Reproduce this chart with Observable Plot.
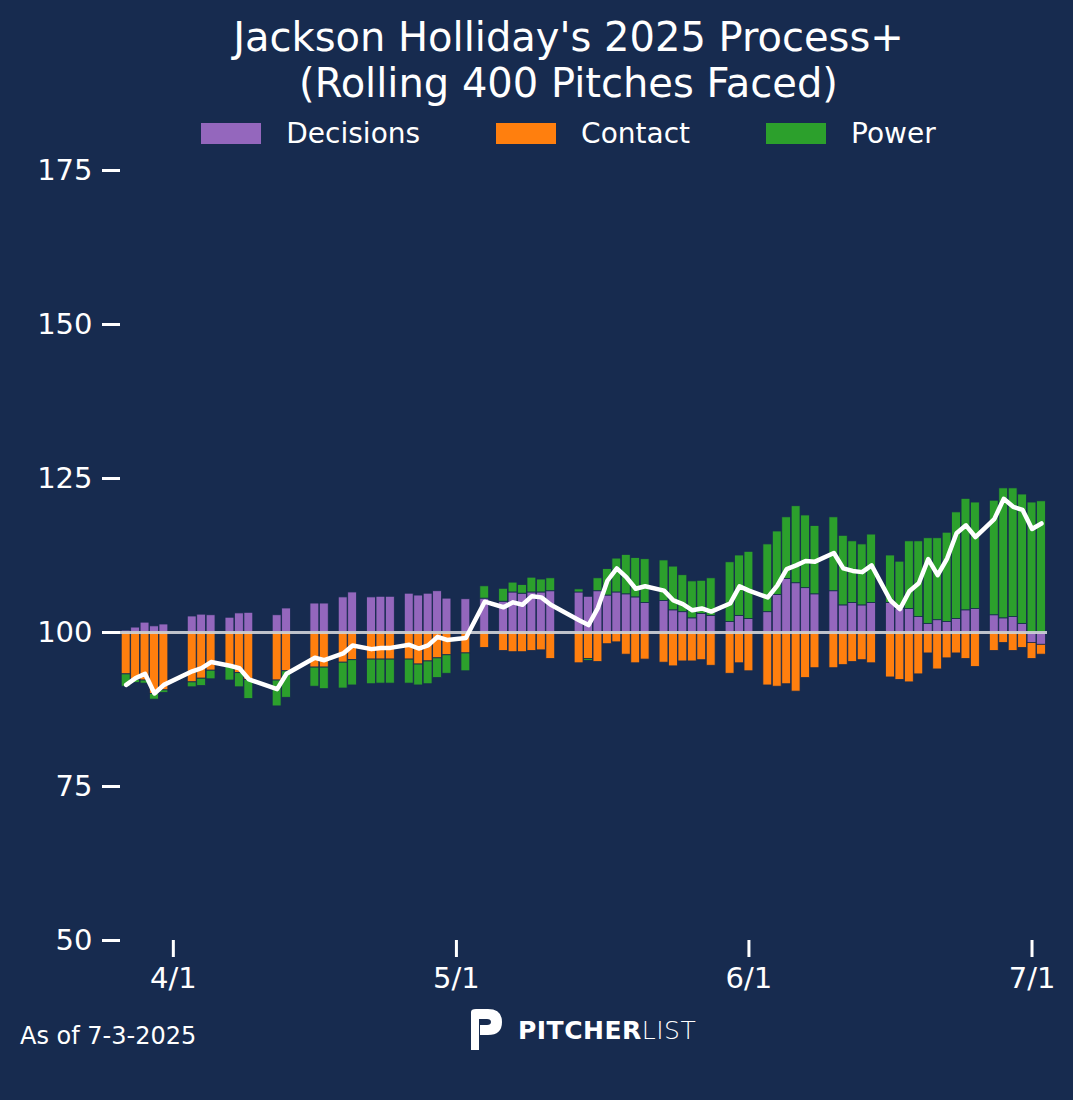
<!DOCTYPE html>
<html><head><meta charset="utf-8">
<script src="https://cdn.jsdelivr.net/npm/d3@7"></script>
<script src="https://cdn.jsdelivr.net/npm/@observablehq/plot@0.6"></script>
<style>
body{margin:0;background:#172b4f;width:1073px;height:1100px;overflow:hidden;font-family:"DejaVu Sans",sans-serif;color:#fff;position:relative}
#title{position:absolute;top:14px;left:64px;width:1009px;text-align:center;font-size:40px;line-height:46px}
#legend{position:absolute;top:117px;left:64px;width:1009px;display:flex;justify-content:center;gap:0;font-size:28px}
.it{display:flex;align-items:center;margin:0 38px}
.sw{width:60px;height:21px;margin-right:25px}
#chart{position:absolute;top:150px;left:0}
#asof{position:absolute;left:20px;top:1022px;font-size:24px}
#logo{position:absolute;left:468px;top:1008px;display:flex;align-items:center;font-size:25px;letter-spacing:0.5px}
</style></head><body>
<div id="title">Jackson Holliday's 2025 Process+<br>(Rolling 400 Pitches Faced)</div>
<div id="legend"></div>
<div id="chart"></div>
<div id="asof">As of 7-3-2025</div>
<div id="logo"><svg width="38" height="44" viewBox="0 0 38 44"><path d="M3 4 Q3 1 8 1 L20 1 Q34 1 34 14 Q34 27 20 27 L12 27 L12 17 L19 17 Q23 17 23 14 Q23 11 19 11 L11 11 L11 42 L3 42 Z" fill="#fff"/></svg><span style="font-weight:bold;margin-left:12px">PITCHER</span><span style="font-weight:300">LIST</span></div>
<script>
const dates = ["3/27","3/28","3/29","3/30","3/31","4/3","4/4","4/5","4/7","4/8","4/9","4/12","4/13","4/16","4/17","4/19","4/20","4/22","4/23","4/24","4/26","4/27","4/28","4/29","4/30","5/2","5/4","5/6","5/7","5/8","5/9","5/10","5/11","5/14","5/15","5/16","5/17","5/18","5/19","5/20","5/21","5/23","5/24","5/25","5/26","5/27","5/28","5/30","5/31","6/1","6/3","6/4","6/5","6/6","6/7","6/8","6/10","6/11","6/12","6/13","6/14","6/16","6/17","6/18","6/19","6/20","6/21","6/22","6/23","6/24","6/25","6/27","6/28","6/29","6/30","7/1","7/2"];
const decisions = [0.3,0.8,1.6,1.0,1.3,2.6,2.9,2.8,2.4,3.1,3.2,2.8,3.9,4.7,4.7,5.7,6.5,5.7,5.8,5.8,6.3,6.0,6.3,6.7,5.5,5.4,5.5,5.0,6.5,6.3,6.5,6.5,6.7,6.5,5.8,6.7,6.0,6.5,6.2,5.7,4.8,5.1,3.6,3.3,2.3,3.0,2.7,1.7,2.7,2.2,3.3,6.1,8.7,8.0,7.2,6.2,6.7,4.4,4.8,4.4,4.8,4.8,3.8,3.8,2.5,1.4,2.0,1.7,2.2,3.6,3.8,2.8,2.3,2.5,1.4,-1.7,-2.0];
const contact = [-6.8,-7.7,-7.8,-10.0,-9.4,-8.1,-7.5,-6.2,-5.4,-6.6,-7.7,-7.8,-6.3,-5.7,-5.7,-4.9,-4.5,-4.4,-4.4,-4.4,-4.4,-5.2,-4.7,-4.2,-3.7,-3.4,-2.5,-3.0,-3.2,-3.2,-3.0,-2.9,-4.3,-5.0,-4.3,-4.8,-1.9,-1.6,-3.6,-5.0,-4.4,-4.9,-5.5,-4.7,-4.7,-4.5,-5.4,-6.7,-5.0,-6.3,-8.6,-8.8,-8.4,-9.6,-7.4,-5.8,-5.8,-5.3,-4.8,-4.5,-5.0,-7.3,-7.7,-8.1,-6.8,-3.4,-6.0,-4.2,-3.4,-4.3,-5.6,-3.0,-1.7,-3.0,-2.5,-2.6,-1.6];
const power = [-2.0,-0.5,-0.5,-0.9,-0.4,-0.8,-1.2,-1.4,-2.4,-2.3,-3.1,-4.2,-4.3,-3.1,-3.5,-4.2,-4.1,-4.0,-3.9,-3.9,-3.9,-3.4,-3.7,-3.2,-3.0,-2.9,2.0,2.1,1.6,1.4,2.4,2.1,2.1,0.5,-0.3,2.1,4.3,5.5,6.4,6.4,7.1,6.6,7.1,6.0,6.0,5.4,6.1,9.7,9.8,10.9,11.0,10.3,10.0,12.5,11.8,11.1,12.0,11.3,10.0,9.9,11.1,7.7,7.7,11.0,12.3,13.9,13.3,14.5,17.3,18.1,17.3,18.6,21.1,20.9,21.0,21.1,21.3];
const seriesNames = ["Decisions","Contact","Power"];
const colors = ["#9467bd","#ff7f0e","#2ca02c"];
const xTicks = ["4/1","5/1","6/1","7/1"];
const yTicks = [50,75,100,125,150,175];

const toDate = s => { const [m,d] = s.split("/").map(Number); return new Date(Date.UTC(2025,m-1,d)); };
const DAY = 864e5;
const rects = [], line = [];
dates.forEach((s,i) => {
  const d = toDate(s); let pos = 100, neg = 100;
  [decisions[i],contact[i],power[i]].forEach((v,k) => {
    let y1,y2;
    if (v >= 0) { y1 = pos; y2 = pos + v; pos = y2; } else { y1 = neg; y2 = neg + v; neg = y2; }
    rects.push({x1:new Date(+d-0.47*DAY), x2:new Date(+d+0.47*DAY), y1, y2, s:seriesNames[k]});
  });
  line.push({date:d, v:100+decisions[i]+contact[i]+power[i]});
});

const leg = document.getElementById("legend");
seriesNames.forEach((n,k)=>{ leg.innerHTML += `<div class="it"><div class="sw" style="background:${colors[k]}"></div>${n}</div>`; });

const chart = Plot.plot({
  width:1073, height:850, marginTop:20, marginBottom:60, marginLeft:120, marginRight:26,
  style:{background:"transparent", color:"#fff", fontSize:"29px", fontFamily:"DejaVu Sans"},
  x:{type:"utc", domain:[new Date(+toDate("3/27")-0.6*DAY), new Date(+toDate("7/2")+0.64*DAY)]},
  y:{domain:[50,175]},
  color:{domain:seriesNames, range:colors},
  marks:[
    Plot.rect(rects,{x1:"x1",x2:"x2",y1:"y1",y2:"y2",fill:"s",stroke:"#172b4f",strokeWidth:0.8}),
    Plot.ruleY([100],{stroke:"#d0d3d8",strokeWidth:3,strokeOpacity:0.9}),
    Plot.line(line,{x:"date",y:"v",stroke:"#fff",strokeWidth:4.5}),
    Plot.axisY({ticks:yTicks, tickSize:18, tickPadding:10, strokeWidth:3, label:null}),
    Plot.axisX({ticks:xTicks.map(toDate), tickFormat:d=>`${d.getUTCMonth()+1}/${d.getUTCDate()}`, tickSize:17, tickPadding:10, strokeWidth:3, label:null})
  ]
});
document.getElementById("chart").appendChild(chart);
</script></body></html>
